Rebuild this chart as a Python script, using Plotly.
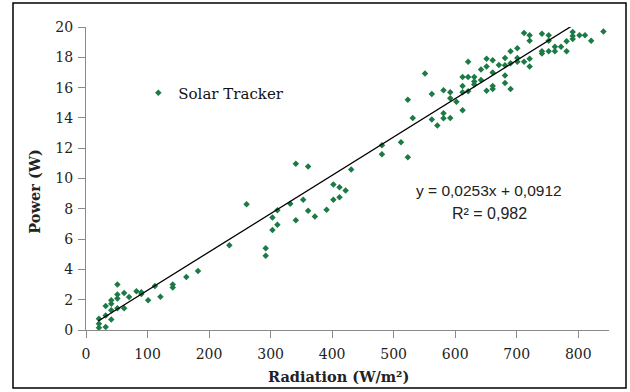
import plotly.graph_objects as go

radiation = [21, 21, 21, 32, 32, 32, 41, 41, 41, 41, 51, 51, 51, 51, 62, 62, 70, 82, 90, 90,
             101, 112, 121, 141, 141, 163, 182, 233,
             261, 292, 292, 303, 303, 311, 311, 332, 341, 341, 353, 361, 361, 372, 391,
             402, 402, 412, 412, 422, 431, 481, 481, 512, 523, 523, 531, 551, 562, 562,
             571, 581, 581, 581, 592, 592, 592, 602, 612, 612, 612, 612, 621, 621, 621,
             631, 631, 631, 642, 642, 651, 651, 651, 661, 661, 661, 661, 671, 681, 681,
             681, 681, 690, 690, 690, 701, 701, 701, 712, 712, 721, 721, 721, 721, 741,
             741, 741, 752, 752, 752, 762, 762, 772, 781, 781, 791, 791, 791, 802, 811,
             821, 841]
power = [0.74, 0.41, 0.15, 1.58, 0.96, 0.2, 1.97, 1.73, 1.3, 0.7, 3.0, 2.35, 2.08, 1.43,
         2.45, 1.43, 2.17, 2.56, 2.5, 2.38,
         1.97, 2.9, 2.2, 3.0, 2.8, 3.5, 3.9, 5.6,
         8.3, 5.4, 4.9, 7.43, 6.6, 7.9, 6.95, 8.33, 10.97, 7.24, 8.6, 10.8, 7.87, 7.5, 7.94,
         9.6, 8.6, 9.43, 8.77, 9.2, 10.6, 12.2, 11.6, 12.4, 11.4, 15.2, 14.0, 16.93, 15.57, 13.9,
         13.5, 15.83, 14.3, 13.97, 15.7, 15.3, 14.0, 15.07, 16.7, 16.1, 15.7, 14.5, 17.7, 16.7, 15.76,
         16.7, 16.4, 16.2, 17.2, 16.5, 17.9, 17.4, 15.8, 17.8, 17.0, 16.1, 15.9, 17.5, 17.96, 17.48,
         16.8, 16.3, 18.4, 17.6, 15.9, 18.6, 17.96, 17.7, 19.6, 17.7, 19.45, 19.1, 17.9, 17.4, 19.56,
         18.4, 18.25, 19.45, 19.1, 18.4, 18.7, 18.4, 18.7, 19.06, 18.4, 19.67, 19.4, 19.2, 19.45, 19.45,
         19.1, 19.7]

slope = 0.0253
intercept = 0.0912
trend_x = [20, 790]
trend_y = [slope * v + intercept for v in trend_x]

x_ticks = [0, 100, 200, 300, 400, 500, 600, 700, 800]
y_ticks = [0, 2, 4, 6, 8, 10, 12, 14, 16, 18, 20]

serif = "DejaVu Serif, serif"
sans = "Liberation Sans, Arial, sans-serif"

fig = go.Figure()
fig.add_trace(go.Scatter(
    x=radiation, y=power, mode="markers", name="Solar Tracker",
    marker=dict(symbol="diamond", size=5, color="#1c7a45"),
))
fig.add_trace(go.Scatter(
    x=trend_x, y=trend_y, mode="lines", showlegend=False,
    line=dict(color="black", width=1.3),
))

axis_common = dict(
    showgrid=False, zeroline=False, showline=True, linecolor="#8a8a8a", linewidth=1.3,
    ticks="outside", ticklen=7, tickcolor="#8a8a8a", tickwidth=1.3,
    tickfont=dict(family=serif, size=14, color="#222"), automargin=False,
)

fig.update_layout(
    width=630, height=392,
    margin=dict(l=86, r=21, t=27, b=62),
    paper_bgcolor="white", plot_bgcolor="white",
    xaxis=dict(range=[0, 850], tickvals=x_ticks, ticklabelstandoff=4, **axis_common),
    yaxis=dict(range=[0, 20], tickvals=y_ticks, ticklabelstandoff=2, **axis_common),
    legend=dict(x=0.1, y=0.782, xanchor="left", yanchor="middle", bgcolor="rgba(0,0,0,0)",
                font=dict(family=serif, size=15, color="#111"), itemwidth=30),
    showlegend=True,
    annotations=[
        dict(xref="paper", yref="paper", x=0.482, y=-0.155, xanchor="center", yanchor="middle",
             showarrow=False, text="<b>Radiation (W/m²)</b>",
             font=dict(family=serif, size=14.5, color="#222")),
        dict(xref="paper", yref="paper", x=-0.098, y=0.459, xanchor="center", yanchor="middle",
             showarrow=False, text="<b>Power (W)</b>", textangle=-90,
             font=dict(family=serif, size=14.5, color="#222")),
        dict(xref="paper", yref="paper", x=0.771, y=0.462, xanchor="center", yanchor="middle",
             showarrow=False, text="y = 0,0253x + 0,0912",
             font=dict(family=sans, size=15.5, color="#222")),
        dict(xref="paper", yref="paper", x=0.771, y=0.386, xanchor="center", yanchor="middle",
             showarrow=False, text="R² = 0,982",
             font=dict(family=sans, size=16, color="#222")),
    ],
    shapes=[dict(type="rect", xref="paper", yref="paper",
                 x0=(13 - 86) / 523, x1=(626 - 86) / 523,
                 y0=(330 - 388) / 303, y1=(330 - 3) / 303,
                 line=dict(color="black", width=1.5))],
)

fig.write_html("out.html", config={"displayModeBar": False},
               post_script="document.body.style.margin='0';")
